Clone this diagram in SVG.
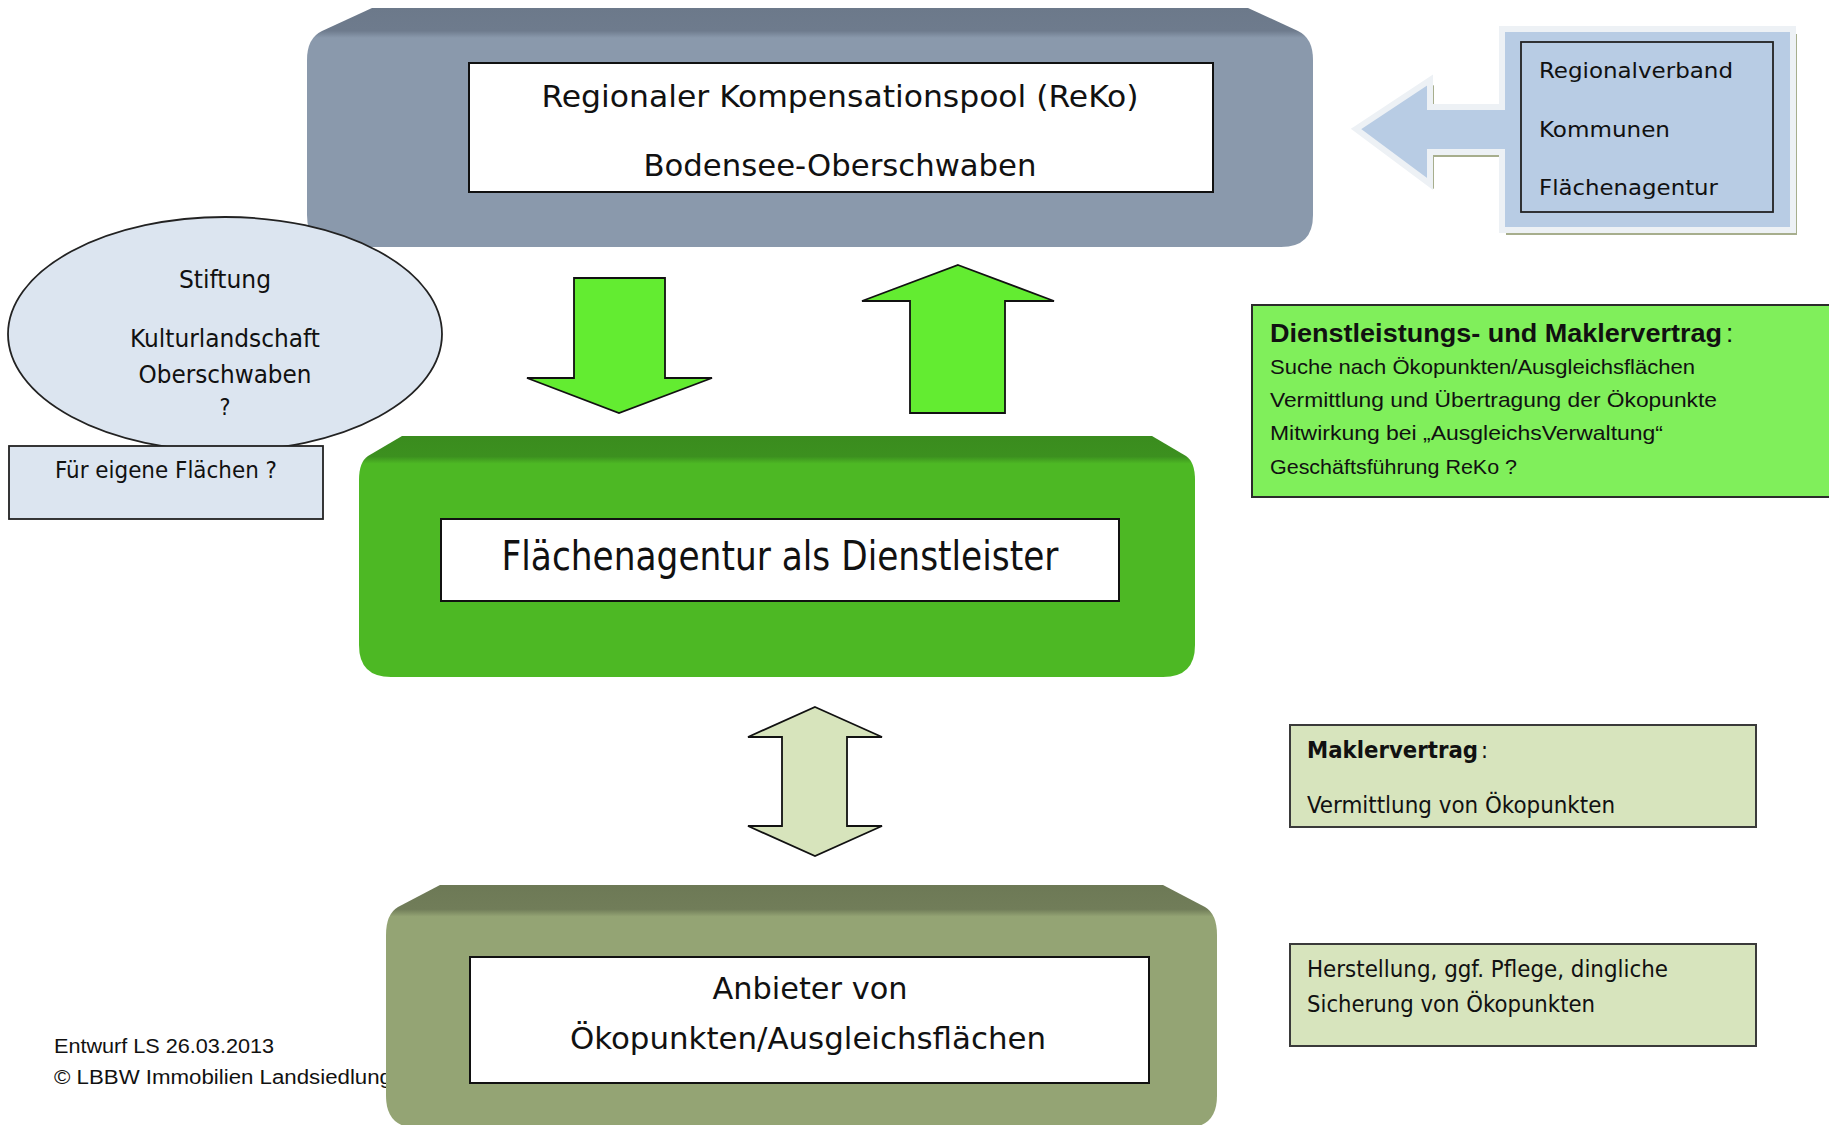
<svg xmlns="http://www.w3.org/2000/svg" width="1829" height="1125" viewBox="0 0 1829 1125">
<defs>
<linearGradient id="gGray" x1="0" y1="0" x2="0" y2="1">
<stop offset="0" stop-color="#6c798a"/><stop offset="0.095" stop-color="#6e7b8d"/><stop offset="0.125" stop-color="#8a99ac"/><stop offset="1" stop-color="#8a99ac"/>
</linearGradient>
<linearGradient id="gGreen" x1="0" y1="0" x2="0" y2="1">
<stop offset="0" stop-color="#3a8c1e"/><stop offset="0.085" stop-color="#3c901f"/><stop offset="0.115" stop-color="#4db824"/><stop offset="1" stop-color="#4db824"/>
</linearGradient>
<linearGradient id="gOlive" x1="0" y1="0" x2="0" y2="1">
<stop offset="0" stop-color="#6d7956"/><stop offset="0.1" stop-color="#717d59"/><stop offset="0.13" stop-color="#94a474"/><stop offset="1" stop-color="#94a474"/>
</linearGradient>
<style>
.t{font-family:"DejaVu Sans Condensed","DejaVu Sans",sans-serif;fill:#111;}
.c{font-family:"Liberation Sans",Arial,sans-serif;fill:#111;}
.wbox{fill:#ffffff;stroke:#111;stroke-width:2;}
.lg{fill:#d7e4bd;stroke:#3a3a3a;stroke-width:2;}
.lb{fill:#dce5f0;stroke:#222;stroke-width:1.8;}
.arrG{fill:#63ec31;stroke:#111;stroke-width:1.8;stroke-linejoin:miter;}
.arrL{fill:#d7e4bc;stroke:#111;stroke-width:1.8;stroke-linejoin:miter;}
</style>
</defs>
<rect width="1829" height="1125" fill="#ffffff"/>

<g id="footer">
<text class="c" x="54" y="1053" font-size="20" textLength="220" lengthAdjust="spacingAndGlyphs">Entwurf LS 26.03.2013</text>
<text class="c" x="54" y="1084" font-size="20" textLength="338" lengthAdjust="spacingAndGlyphs">© LBBW Immobilien Landsiedlung</text>
</g>

<g id="reko">
<path d="M372,8 L1248,8 L1298,31 Q1313,38 1313,60 L1313,215 Q1313,247 1281,247 L339,247 Q307,247 307,215 L307,60 Q307,38 322,31 Z" fill="url(#gGray)"/>
<rect class="wbox" x="469" y="63" width="744" height="129"/>
<text class="t" x="840" y="107" font-size="31" text-anchor="middle" textLength="597" lengthAdjust="spacingAndGlyphs">Regionaler Kompensationspool (ReKo)</text>
<text class="t" x="840" y="176" font-size="31" text-anchor="middle" textLength="393" lengthAdjust="spacingAndGlyphs">Bodensee-Oberschwaben</text>
</g>

<g id="traeger">
<polygon points="1356,129 1430,80 1430,107 1502,107 1502,29 1793,29 1793,230 1502,230 1502,152 1430,152 1430,184" fill="#a7ae8d" transform="translate(4,5)"/>
<polygon points="1356,129 1430,80 1430,107 1502,107 1502,29 1793,29 1793,230 1502,230 1502,152 1430,152 1430,184" fill="#b8cce4" stroke="#edf1f5" stroke-width="6"/>
<rect x="1521" y="42" width="252" height="170" fill="none" stroke="#222" stroke-width="1.8"/>
<text class="t" x="1539" y="78" font-size="22" textLength="194" lengthAdjust="spacingAndGlyphs">Regionalverband</text>
<text class="t" x="1539" y="137" font-size="22" textLength="131" lengthAdjust="spacingAndGlyphs">Kommunen</text>
<text class="t" x="1539" y="195" font-size="22" textLength="179" lengthAdjust="spacingAndGlyphs">Flächenagentur</text>
</g>

<g id="stiftung">
<ellipse class="lb" cx="225" cy="334" rx="217" ry="117"/>
<text class="t" x="225" y="288" font-size="24" text-anchor="middle" textLength="92" lengthAdjust="spacingAndGlyphs">Stiftung</text>
<text class="t" x="225" y="347" font-size="24" text-anchor="middle" textLength="190" lengthAdjust="spacingAndGlyphs">Kulturlandschaft</text>
<text class="t" x="225" y="383" font-size="24" text-anchor="middle" textLength="173" lengthAdjust="spacingAndGlyphs">Oberschwaben</text>
<text class="t" x="225" y="415" font-size="23" text-anchor="middle">?</text>
</g>

<g id="eigene-flaechen">
<rect class="lb" x="9" y="446" width="314" height="73"/>
<text class="t" x="55" y="478" font-size="23" textLength="222" lengthAdjust="spacingAndGlyphs">Für eigene Flächen ?</text>
</g>

<g id="flaechenagentur">
<path d="M402,436 L1152,436 L1186,456 Q1195,462 1195,480 L1195,645 Q1195,677 1163,677 L391,677 Q359,677 359,645 L359,480 Q359,462 368,456 Z" fill="url(#gGreen)"/>
<rect class="wbox" x="441" y="519" width="678" height="82"/>
<text class="t" x="780" y="570" font-size="41" text-anchor="middle" textLength="557" lengthAdjust="spacingAndGlyphs">Flächenagentur als Dienstleister</text>
</g>

<g id="anbieter">
<path d="M440,885 L1163,885 L1205,907 Q1217,914 1217,935 L1217,1096 Q1217,1128 1185,1128 L418,1128 Q386,1128 386,1096 L386,935 Q386,914 398,907 Z" fill="url(#gOlive)"/>
<rect class="wbox" x="470" y="957" width="679" height="126"/>
<text class="t" x="810" y="999" font-size="31" text-anchor="middle" textLength="195" lengthAdjust="spacingAndGlyphs">Anbieter von</text>
<text class="t" x="808" y="1049" font-size="31" text-anchor="middle" textLength="476" lengthAdjust="spacingAndGlyphs">Ökopunkten/Ausgleichsflächen</text>
</g>

<g id="dienstleistungsvertrag">
<rect x="1252" y="305" width="590" height="192" fill="#80ef5b" stroke="#2b2b2b" stroke-width="2"/>
<text class="c" x="1270" y="342" font-size="26" font-weight="bold" textLength="452" lengthAdjust="spacingAndGlyphs">Dienstleistungs- und Maklervertrag</text>
<text class="c" x="1726" y="342" font-size="26">:</text>
<text class="c" x="1270" y="374" font-size="21" textLength="425" lengthAdjust="spacingAndGlyphs">Suche nach Ökopunkten/Ausgleichsflächen</text>
<text class="c" x="1270" y="407" font-size="21" textLength="447" lengthAdjust="spacingAndGlyphs">Vermittlung und Übertragung der Ökopunkte</text>
<text class="c" x="1270" y="440" font-size="21" textLength="393" lengthAdjust="spacingAndGlyphs">Mitwirkung bei „AusgleichsVerwaltung“</text>
<text class="c" x="1270" y="474" font-size="21" textLength="247" lengthAdjust="spacingAndGlyphs">Geschäftsführung ReKo ?</text>
</g>

<g id="maklervertrag">
<rect class="lg" x="1290" y="725" width="466" height="102"/>
<text class="t" x="1307" y="758" font-size="23" font-weight="bold" textLength="171" lengthAdjust="spacingAndGlyphs">Maklervertrag</text>
<text class="t" x="1481" y="758" font-size="23">:</text>
<text class="t" x="1307" y="813" font-size="23" textLength="308" lengthAdjust="spacingAndGlyphs">Vermittlung von Ökopunkten</text>
</g>

<g id="herstellung">
<rect class="lg" x="1290" y="944" width="466" height="102"/>
<text class="t" x="1307" y="977" font-size="23" textLength="361" lengthAdjust="spacingAndGlyphs">Herstellung, ggf. Pflege, dingliche</text>
<text class="t" x="1307" y="1012" font-size="23" textLength="288" lengthAdjust="spacingAndGlyphs">Sicherung von Ökopunkten</text>
</g>

<g id="connectors">
<polygon class="arrG" points="574,278 665,278 665,378 712,378 619,413 527,378 574,378"/>
<polygon class="arrG" points="958,265 1054,301 1005,301 1005,413 910,413 910,301 862,301"/>
<polygon class="arrL" points="815,707 882,737 847,737 847,826 882,826 815,856 748,826 782,826 782,737 748,737"/>
</g>
</svg>
